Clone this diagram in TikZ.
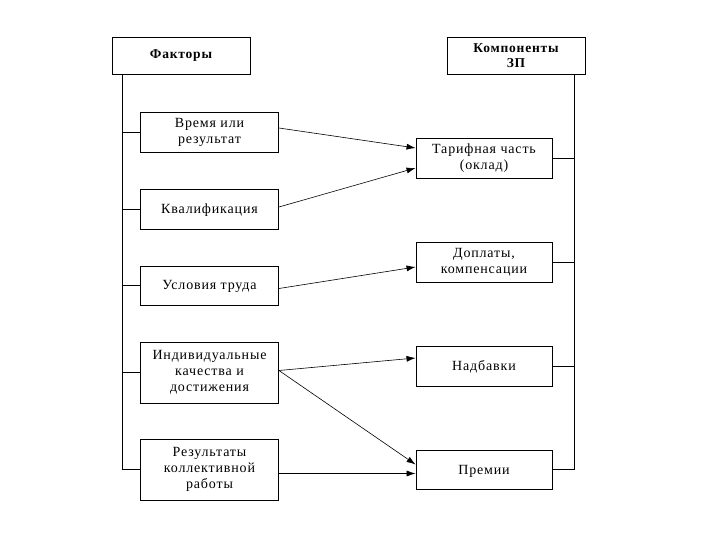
\documentclass[tikz,border=0pt]{standalone}
\usepackage{fontspec}
\setmainfont{Liberation Serif}
\newfontfamily\boxfont[LetterSpace=6]{Liberation Serif}
\usetikzlibrary{
    arrows.meta,
    calc
}

\begin{document}
\begin{tikzpicture}[x=1pt, y=-1pt,
    box/.style={draw, line width=0.9pt, minimum width=138pt, minimum height=40pt,
        align=center, inner sep=2pt, font=\boxfont\fontsize{14}{16}\selectfont},
    lowtext/.style={text height=1.2em},
    headbox/.style={box, minimum height=37pt, font=\boxfont\bfseries\fontsize{13.5}{15}\selectfont},
    arr/.style={-{Latex[length=9pt, width=6pt]}, line width=0.6pt},
    spine/.style={line width=0.9pt}
  ]
      \useasboundingbox (0,0) rectangle (720,540);

      \node[headbox] (fak) at (181, 55.5) {Факторы};
      \node[headbox] (komp) at (516, 55.5) {Компоненты\\ЗП};

      % factors
      \node[box] (f1) at (209.5, 132) {Время или\\результат};
      \node[box, lowtext] (f2) at (209.5, 209) {Квалификация};
      \node[box, lowtext, minimum height=39pt] (f3) at (209.5, 285.5) {Условия труда};
      \node[box, minimum height=61pt] (f4) at (209.5, 372.5) {Индивидуальные\\качества и\\достижения};
      \node[box, minimum height=61pt] (f5) at (209.5, 469.5) {Результаты\\коллективной\\работы};

      % components
      \node[box, minimum width=136pt] (r1) at (484, 158) {Тарифная часть\\(оклад)};
      \node[box, minimum width=136pt] (r2) at (484, 262) {Доплаты,\\компенсации};
      \node[box, lowtext, minimum width=136pt] (r3) at (484, 366) {Надбавки};
      \node[box, lowtext, minimum width=136pt, minimum height=39pt] (r4) at (484, 469.5) {Премии};

      % spines
      \coordinate (ltop) at ($(fak.south west)+(11,0)$);
      \coordinate (rtop) at ($(komp.south east)+(-11,0)$);
      \draw[spine] (ltop) |- (f5.west);
      \draw[spine] (rtop) |- (r4.east);
      \foreach \n in {f1,f2,f3,f4}
        \draw[spine] (\n.west) -- (\n.west -| ltop);
      \foreach \n in {r1,r2,r3}
        \draw[spine] (\n.east) -- (\n.east -| rtop);

      % arrows
      \draw[arr] ($(f1.east)+(0,-4)$) -- ($(r1.west)+(0,-10)$);
      \draw[arr] ($(f2.east)+(0,-2)$) -- ($(r1.west)+(0,10)$);
      \draw[arr] ($(f3.east)+(0,3)$) -- ($(r2.west)+(0,5)$);
      \draw[arr] ($(f4.east)+(0,-2)$) -- ($(r3.west)+(0,-8)$);
      \draw[arr] ($(f4.east)+(0,-2)$) -- ($(r4.west)+(0,-5)$);
      \draw[arr] ($(f5.east)+(0,4)$) -- ($(r4.west)+(0,4)$);
\end{tikzpicture}
\end{document}
